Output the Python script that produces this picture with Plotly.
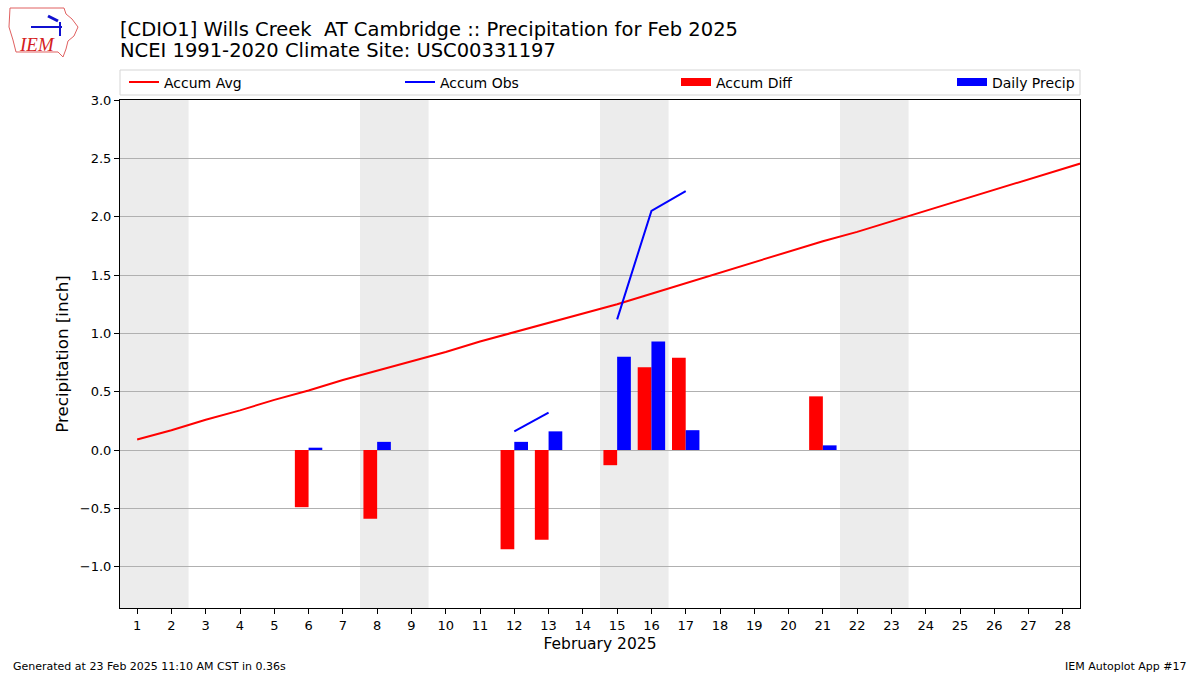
import plotly.graph_objects as go

# ---------------- data ----------------
avg_days = list(range(1, 30))
accum_avg = [0.09, 0.17, 0.26, 0.34, 0.43, 0.51, 0.60, 0.68, 0.76, 0.84,
             0.93, 1.01, 1.09, 1.17, 1.25, 1.34, 1.43, 1.52, 1.61, 1.70,
             1.79, 1.87, 1.96, 2.05, 2.14, 2.23, 2.32, 2.41, 2.50]

obs_days = list(range(1, 29))
accum_obs = [None, None, None, None, None, 0.02, None, 0.09, None, None,
             None, 0.16, 0.32, None, 1.12, 2.05, 2.22, None, None, None,
             2.26, None, None, None, None, None, None, None]

precip_days = [6, 8, 12, 13, 15, 16, 17, 21]
accum_diff = [-0.49, -0.59, -0.85, -0.77, -0.13, 0.71, 0.79, 0.46]
daily_precip = [0.02, 0.07, 0.07, 0.16, 0.80, 0.93, 0.17, 0.04]

weekends = [(1, 2), (8, 9), (15, 16), (22, 23)]
x_ticks = list(range(1, 29))
y_ticks = [-1.0, -0.5, 0.0, 0.5, 1.0, 1.5, 2.0, 2.5, 3.0]

title1 = "[CDIO1] Wills Creek\u00a0 AT Cambridge :: Precipitation for Feb 2025"
title2 = "NCEI 1991-2020 Climate Site: USC00331197"
footer_left = "Generated at 23 Feb 2025 11:10 AM CST in 0.36s"
footer_right = "IEM Autoplot App #17"

# ---------------- layout helpers ----------------
W, H = 1200, 675
L, R, T, B = 120, 120, 100, 67
PW, PH = W - L - R, H - T - B


def px(xp):
    return (xp - L) / PW


def py(yp):
    return (H - B - yp) / PH


FONT = "DejaVu Sans"
fig = go.Figure()

fig.add_trace(go.Scatter(x=avg_days, y=accum_avg, mode="lines", name="Accum Avg",
                         line=dict(color="#ff0000", width=2)))
fig.add_trace(go.Scatter(x=obs_days, y=accum_obs, mode="lines", name="Accum Obs",
                         line=dict(color="#0000ff", width=2), connectgaps=False))
fig.add_trace(go.Bar(x=precip_days, y=accum_diff, width=0.4, offset=-0.4,
                     marker=dict(color="#ff0000", line=dict(width=0)),
                     name="Accum Diff", showlegend=False))
fig.add_trace(go.Bar(x=precip_days, y=daily_precip, width=0.4, offset=0.0,
                     marker=dict(color="#0000ff", line=dict(width=0)),
                     name="Daily Precip", showlegend=False))
# legend-only entries with rectangular handles like the reference
fig.add_trace(go.Scatter(x=[None], y=[None], mode="lines", name="Accum Diff",
                         line=dict(color="#ff0000", width=8)))
fig.add_trace(go.Scatter(x=[None], y=[None], mode="lines", name="Daily Precip",
                         line=dict(color="#0000ff", width=8), legendwidth=90))

shapes = []
for a, b in weekends:
    shapes.append(dict(type="rect", xref="x", yref="paper", x0=a - 0.5, x1=b + 0.5,
                       y0=0, y1=1, fillcolor="#ececec", line=dict(width=0),
                       layer="below"))
# legend frame
shapes.append(dict(type="rect", xref="paper", yref="paper", x0=px(120), x1=px(1080),
                   y0=py(95), y1=py(70), line=dict(color="#d5d5d5", width=1),
                   fillcolor="rgba(0,0,0,0)"))
# simple logo outline
logo_pts = [(10, 8), (64, 8), (66, 14), (72, 19), (78, 27), (74, 36), (68, 41),
            (66, 49), (63, 57), (58, 52), (16, 52), (13, 40), (9, 27), (10, 8)]
path = "M " + " L ".join(f"{px(a):.5f},{py(b):.5f}" for a, b in logo_pts) + " Z"
shapes.append(dict(type="path", xref="paper", yref="paper", path=path,
                   line=dict(color="#e06060", width=1), fillcolor="rgba(0,0,0,0)"))
shapes.append(dict(type="line", xref="paper", yref="paper", x0=px(31), x1=px(62),
                   y0=py(27), y1=py(27), line=dict(color="#1010d0", width=2)))
shapes.append(dict(type="line", xref="paper", yref="paper", x0=px(48), x1=px(58),
                   y0=py(16), y1=py(21), line=dict(color="#1010d0", width=3)))
shapes.append(dict(type="line", xref="paper", yref="paper", x0=px(60), x1=px(60),
                   y0=py(22), y1=py(36), line=dict(color="#1010d0", width=2)))

annotations = [
    dict(text=title1, xref="paper", yref="paper", x=px(118), y=py(29), xanchor="left",
         yanchor="middle", showarrow=False, font=dict(family=FONT, size=19.5, color="black")),
    dict(text=title2, xref="paper", yref="paper", x=px(118), y=py(51), xanchor="left",
         yanchor="middle", showarrow=False, font=dict(family=FONT, size=19.5, color="black")),
    dict(text=footer_left, xref="paper", yref="paper", x=px(11), y=py(666),
         xanchor="left", yanchor="middle", showarrow=False,
         font=dict(family=FONT, size=11, color="black")),
    dict(text=footer_right, xref="paper", yref="paper", x=px(1189), y=py(666),
         xanchor="right", yanchor="middle", showarrow=False,
         font=dict(family=FONT, size=11, color="black")),
    dict(text="<i>IEM</i>", xref="paper", yref="paper", x=px(37), y=py(45),
         xanchor="center", yanchor="middle", showarrow=False,
         font=dict(family="Liberation Serif", size=19, color="#d42020")),
]

fig.update_layout(
    width=W, height=H,
    margin=dict(l=L, r=R, t=T, b=B, pad=0),
    paper_bgcolor="white", plot_bgcolor="white",
    font=dict(family=FONT, color="black"),
    barmode="overlay",
    shapes=shapes,
    annotations=annotations,
    showlegend=True,
    legend=dict(orientation="h", x=px(124), xanchor="left", y=py(82.5), yanchor="middle",
                entrywidth=231, entrywidthmode="pixels",
                font=dict(family=FONT, size=14), bgcolor="rgba(0,0,0,0)",
                borderwidth=0, itemclick=False, traceorder="normal"),
    xaxis=dict(range=[0.5, 28.5], tickmode="array", tickvals=x_ticks,
               ticktext=[str(d) for d in x_ticks], showgrid=False, zeroline=False,
               showline=True, linecolor="black", linewidth=1, mirror=True,
               ticks="outside", ticklen=5, tickcolor="black",
               tickfont=dict(size=13),
               title=dict(text="February 2025", font=dict(size=15.5), standoff=6)),
    yaxis=dict(range=[-1.354, 3.0], tickmode="array", tickvals=y_ticks,
               tickformat=".1f", showgrid=True, gridcolor="#b0b0b0", gridwidth=1,
               zeroline=False, showline=True, linecolor="black", linewidth=1,
               mirror=True, ticks="outside", ticklen=5, tickcolor="black",
               tickfont=dict(size=13),
               title=dict(text="Precipitation [inch]", font=dict(size=16.7), standoff=6)),
)

fig.write_html("out.html", config={"displayModeBar": False},
               post_script="document.body.style.margin='0px';document.body.style.padding='0px';")
